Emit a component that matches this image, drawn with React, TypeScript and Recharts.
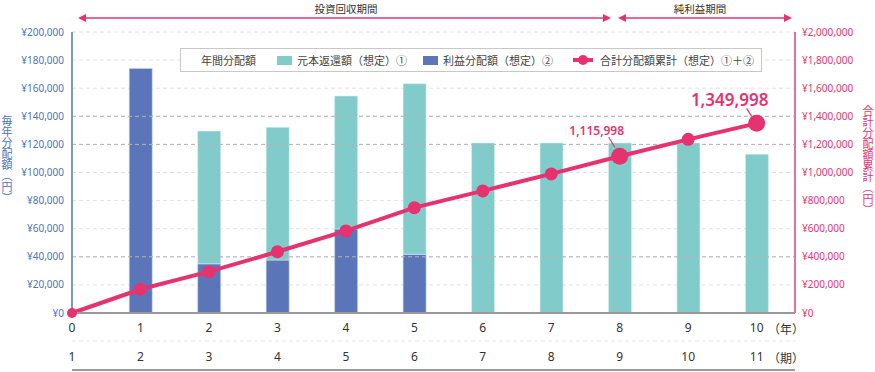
import React from 'react';
import {
  ComposedChart,
  Bar,
  Line,
  XAxis,
  YAxis,
  CartesianGrid,
  ReferenceLine,
  LabelList,
} from 'recharts';

const YEARS = [0, 1, 2, 3, 4, 5, 6, 7, 8, 9, 10];
const PERIODS = [1, 2, 3, 4, 5, 6, 7, 8, 9, 10, 11];
// 利益分配額（想定）②
const PROFIT = [0, 174000, 35000, 37700, 59800, 41800, 0, 0, 0, 0, 0];
// 元本返還額（想定）①
const PRINCIPAL = [0, 0, 94500, 94500, 94600, 121400, 121000, 121000, 121000, 121000, 113000];
// 合計分配額累計（想定）①＋②
const CUMULATIVE = [0, 169000, 294000, 436000, 584000, 750000, 869000, 990000, 1115998, 1236000, 1349998];
const CALLOUT_YEARS = [8, 10];

const LEFT_TICKS = [0, 20000, 40000, 60000, 80000, 100000, 120000, 140000, 160000, 180000, 200000];
const RIGHT_TICKS = [0, 200000, 400000, 600000, 800000, 1000000, 1200000, 1400000, 1600000, 1800000, 2000000];
const DARK_GRID = [40000, 120000, 140000];

const TEAL = '#82cbcb';
const BLUE = '#5a76b8';
const PINK = '#e6336f';
const AXIS_BLUE = '#4f72bb';
const FONT = '"Noto Sans CJK JP", "Noto Sans", sans-serif';
const TICK_FONT = '"Noto Sans", "Noto Sans CJK JP", sans-serif';

const data = YEARS.map((year, i) => ({
  year,
  profit: PROFIT[i] || null,
  principal: PRINCIPAL[i] || null,
  total: CUMULATIVE[i],
}));

const yen = (v: number) => '¥' + v.toLocaleString('en-US');

const renderDot = (props: any) => {
  const { cx, cy, index } = props;
  const r = index === 0 ? 5 : CALLOUT_YEARS.includes(YEARS[index]) ? 8.5 : 6.5;
  return <circle key={`dot-${index}`} cx={cx} cy={cy} r={r} fill={PINK} />;
};

const renderCallout = (props: any) => {
  const { x, y, index, value } = props;
  const year = YEARS[index];
  if (!CALLOUT_YEARS.includes(year)) return null;
  const big = year === 10;
  return (
    <g key={`callout-${index}`}>
      <line
        x1={x - (big ? 10 : 11)}
        y1={y - (big ? 15 : 19)}
        x2={x - 5}
        y2={y - (big ? 7 : 9)}
        stroke={PINK}
        strokeWidth={1.2}
      />
      <text
        x={x - (big ? 27 : 23)}
        y={y - (big ? 24 : 26)}
        textAnchor="middle"
        dominantBaseline="central"
        fill={PINK}
        fontSize={big ? 17 : 12}
        fontWeight={600}
        fontFamily={TICK_FONT}
      >
        {Number(value).toLocaleString('en-US')}
      </text>
    </g>
  );
};

function Arrow({ x1, x2, y }: { x1: number; x2: number; y: number }) {
  return (
    <g>
      <line x1={x1 + 6} y1={y} x2={x2 - 6} y2={y} stroke={PINK} strokeWidth={1.3} />
      <polygon points={`${x1},${y} ${x1 + 8},${y - 4} ${x1 + 8},${y + 4}`} fill={PINK} />
      <polygon points={`${x2},${y} ${x2 - 8},${y - 4} ${x2 - 8},${y + 4}`} fill={PINK} />
    </g>
  );
}

function ChartLegend() {
  const text: React.CSSProperties = { fontSize: 11, color: '#444', whiteSpace: 'nowrap' };
  return (
    <div
      style={{
        position: 'absolute',
        left: 180,
        top: 48,
        width: 580,
        height: 22,
        border: '1px solid #c8c8c8',
        background: '#fff',
        display: 'flex',
        alignItems: 'center',
        fontFamily: FONT,
      }}
    >
      <span style={{ ...text, marginLeft: 20 }}>年間分配額</span>
      <span style={{ width: 15, height: 9, background: TEAL, marginLeft: 21 }} />
      <span style={{ ...text, marginLeft: 5 }}>元本返還額（想定）①</span>
      <span style={{ width: 15, height: 9, background: BLUE, marginLeft: 16 }} />
      <span style={{ ...text, marginLeft: 5 }}>利益分配額（想定）②</span>
      <svg width={20} height={12} style={{ marginLeft: 20 }}>
        <line x1={0} y1={6} x2={20} y2={6} stroke={PINK} strokeWidth={4} />
        <circle cx={10} cy={6} r={5} fill={PINK} />
      </svg>
      <span style={{ ...text, marginLeft: 7 }}>合計分配額累計（想定）①＋②</span>
    </div>
  );
}

export default function App() {
  return (
    <div
      style={{
        position: 'absolute',
        left: 0,
        top: 0,
        width: 875,
        height: 372,
        background: '#fff',
        fontFamily: FONT,
        overflow: 'hidden',
      }}
    >
      <ComposedChart
        width={875}
        height={372}
        data={data}
        margin={{ top: 32, right: 0, bottom: 1, left: 0 }}
      >
        <CartesianGrid
          xAxisId="a_year"
          yAxisId="left"
          vertical={false}
          stroke="#e2e2e2"
          strokeDasharray="4 3"
        />
        {DARK_GRID.map((v) => (
          <ReferenceLine
            key={v}
            xAxisId="a_year"
            yAxisId="left"
            y={v}
            stroke="#b5b5b5"
            strokeDasharray="4 3"
          />
        ))}
        <XAxis
          xAxisId="a_year"
          dataKey="year"
          type="number"
          domain={[0, 10.56]}
          ticks={YEARS}
          interval={0}
          height={28}
          tickSize={0}
          tickMargin={10}
          axisLine={{ stroke: '#9a9a9a', strokeWidth: 2 }}
          tickLine={false}
          tick={{ fill: '#333', fontSize: 12, fontFamily: TICK_FONT }}
        />
        <XAxis
          xAxisId="b_period"
          dataKey="year"
          type="number"
          domain={[0, 10.56]}
          ticks={YEARS}
          interval={0}
          height={29}
          tickSize={0}
          tickMargin={11}
          tickFormatter={(v: number) => String(PERIODS[YEARS.indexOf(v)])}
          axisLine={{ stroke: '#e6e6e6', strokeDasharray: '4 3' }}
          tickLine={false}
          tick={{ fill: '#333', fontSize: 12, fontFamily: TICK_FONT }}
        />
        <XAxis
          xAxisId="c_base"
          dataKey="year"
          type="number"
          domain={[0, 10.56]}
          ticks={[]}
          height={1}
          tick={false}
          tickLine={false}
          axisLine={{ stroke: '#9a9a9a', strokeWidth: 2 }}
        />
        <YAxis
          yAxisId="left"
          orientation="left"
          width={72}
          domain={[0, 200000]}
          ticks={LEFT_TICKS}
          interval={0}
          tickSize={0}
          tickMargin={8}
          tickFormatter={yen}
          axisLine={{ stroke: '#7f95cc', strokeWidth: 2 }}
          tickLine={false}
          tick={{ fill: AXIS_BLUE, fontSize: 10, fontFamily: TICK_FONT }}
        />
        <YAxis
          yAxisId="right"
          orientation="right"
          width={80}
          domain={[0, 2000000]}
          ticks={RIGHT_TICKS}
          interval={0}
          tickSize={0}
          tickMargin={7}
          tickFormatter={yen}
          axisLine={{ stroke: '#ec6f95', strokeWidth: 2 }}
          tickLine={false}
          tick={{ fill: PINK, fontSize: 10, fontFamily: TICK_FONT }}
        />
        <Bar
          xAxisId="a_year"
          yAxisId="left"
          dataKey="profit"
          stackId="a"
          fill={BLUE}
          stroke="#c9d3ea"
          strokeWidth={0.6}
          barSize={23}
          isAnimationActive={false}
        />
        <Bar
          xAxisId="a_year"
          yAxisId="left"
          dataKey="principal"
          stackId="a"
          fill={TEAL}
          stroke="#d6eeee"
          strokeWidth={0.6}
          barSize={23}
          isAnimationActive={false}
        />
        <Line
          xAxisId="a_year"
          yAxisId="right"
          dataKey="total"
          type="linear"
          stroke={PINK}
          strokeWidth={4}
          dot={renderDot}
          activeDot={false}
          isAnimationActive={false}
        >
          <LabelList dataKey="total" content={renderCallout} />
        </Line>
      </ComposedChart>

      <svg
        width={875}
        height={372}
        style={{ position: 'absolute', left: 0, top: 0, pointerEvents: 'none' }}
      >
        <Arrow x1={78} x2={611} y={18} />
        <Arrow x1={618} x2={792} y={18} />
        <text x={346} y={8} textAnchor="middle" dominantBaseline="central" fontSize={10.5} fill="#333" fontFamily={FONT}>
          投資回収期間
        </text>
        <text x={700} y={8} textAnchor="middle" dominantBaseline="central" fontSize={10.5} fill="#333" fontFamily={FONT}>
          純利益期間
        </text>
        <text x={786} y={328} textAnchor="middle" dominantBaseline="central" fontSize={12} fill="#333" fontFamily={FONT}>
          （年）
        </text>
        <text x={786} y={357} textAnchor="middle" dominantBaseline="central" fontSize={12} fill="#333" fontFamily={FONT}>
          （期）
        </text>
      </svg>

      <div
        style={{
          position: 'absolute',
          left: 1,
          top: 115,
          writingMode: 'vertical-rl',
          fontSize: 11,
          lineHeight: '12px',
          color: AXIS_BLUE,
        }}
      >
        毎年分配額（円）
      </div>
      <div
        style={{
          position: 'absolute',
          left: 862,
          top: 105,
          writingMode: 'vertical-rl',
          fontSize: 11,
          lineHeight: '12px',
          color: PINK,
        }}
      >
        合計分配額累計（円）
      </div>

      <ChartLegend />
    </div>
  );
}
